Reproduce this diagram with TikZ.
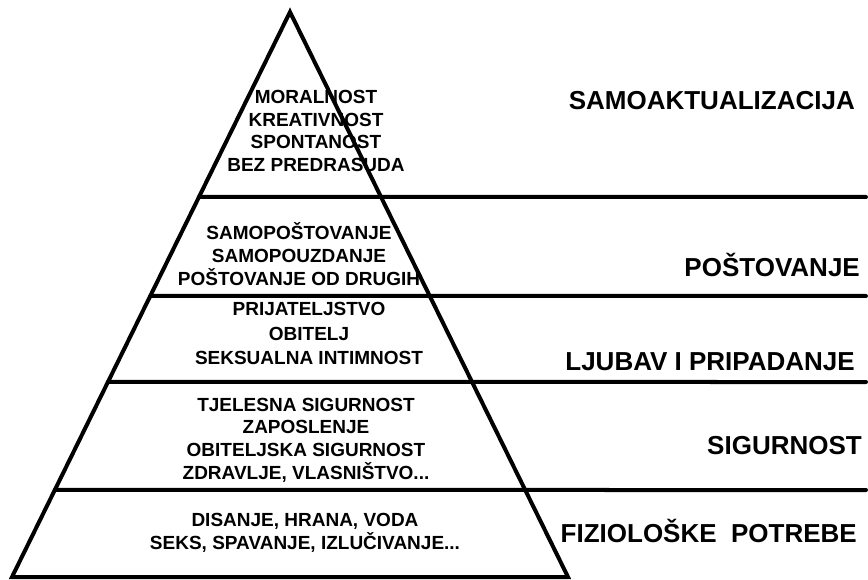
\documentclass[tikz,border=0pt]{standalone}
\usepackage{fontspec}
\setmainfont{Liberation Sans}[BoldFont={Liberation Sans Bold}]
\usetikzlibrary{calc}

\begin{document}
\begin{tikzpicture}[x=1pt, y=-1pt]
  \tikzset{
    edge/.style={line width=4pt, line join=miter},
    layer/.style={line width=4pt, line cap=round},
    needs/.style={font=\bfseries\fontsize{19}{23}\selectfont, align=center, inner sep=0pt},
    level/.style={font=\bfseries\fontsize{26}{30}\selectfont, anchor=base east, inner sep=0pt}
  }
  \useasboundingbox (0,0) rectangle (868,580);

  % Pyramid corners
  \coordinate (apex) at (290,12);
  \coordinate (left) at (12,577);
  \coordinate (right) at (568,577);
  \draw[edge] (left) -- (apex) -- (right) -- cycle;

  % Layer lines
  \foreach \y/\n in {197/a, 296/b, 382/c, 490/d} {
    \coordinate (s\n) at ($(apex)!{(\y-12)/565}!(left)$);
    \coordinate (e\n) at (866,\y);
    \draw[layer] (s\n) -- (e\n);
  }

  % Needs inside the pyramid
  \node[needs, font=\bfseries\fontsize{19}{22.7}\selectfont] (top) at (316,131)
    {MORALNOST\\KREATIVNOST\\SPONTANOST\\BEZ PREDRASUDA};
  \node[needs] (esteem) at (299,254)
    {SAMOPOŠTOVANJE\\SAMOPOUZDANJE\\POŠTOVANJE OD DRUGIH};
  \node[needs, font=\bfseries\fontsize{19}{24.5}\selectfont] (love) at (309,333.5)
    {PRIJATELJSTVO\\OBITELJ\\SEKSUALNA INTIMNOST};
  \node[needs, font=\bfseries\fontsize{19}{22.7}\selectfont] (safety) at (306,440)
    {TJELESNA SIGURNOST\\ZAPOSLENJE\\OBITELJSKA SIGURNOST\\ZDRAVLJE, VLASNIŠTVO...};
  \node[needs] (body) at (305,532.5)
    {DISANJE, HRANA, VODA\\SEKS, SPAVANJE, IZLUČIVANJE...};

  % Level names
  \node[level] (selfact) at (855,110) {SAMOAKTUALIZACIJA};
  \node[level] (respect) at (860,277) {POŠTOVANJE};
  \node[level] (belong) at (855,370) {LJUBAV I PRIPADANJE};
  \node[level] (secure) at (862,454) {SIGURNOST};
  \node[level] (physio) at (857,542) {FIZIOLOŠKE\ \ POTREBE};
\end{tikzpicture}
\end{document}
